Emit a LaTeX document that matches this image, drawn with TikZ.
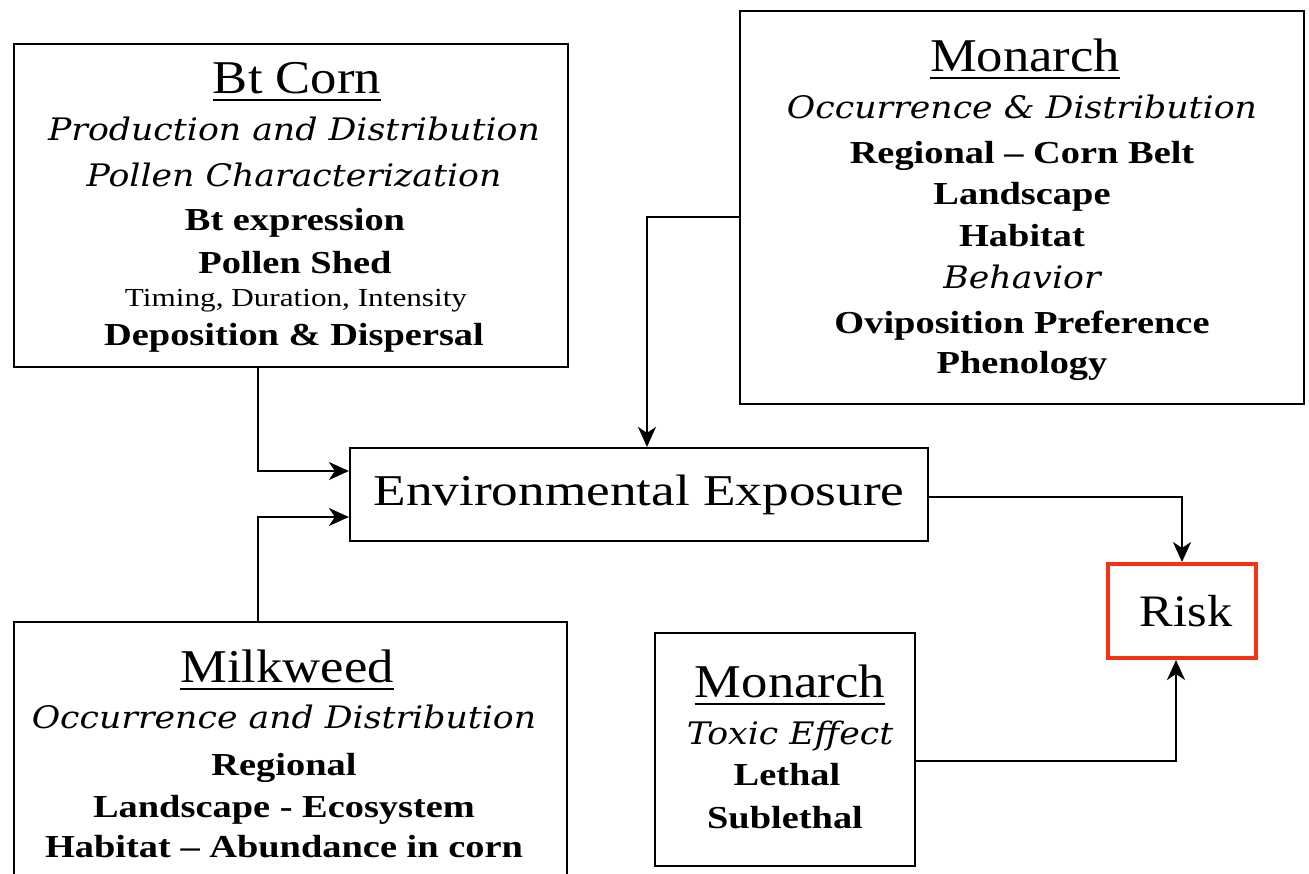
\documentclass[tikz,border=0pt]{standalone}
\usepackage{fontspec}
\setmainfont{Liberation Serif}
\newfontfamily\titlef{Liberation Serif}[FakeStretch=1.12]
\newfontfamily\envf{Liberation Serif}[FakeStretch=1.21]
\newfontfamily\smlf{Liberation Serif}[FakeStretch=1.2]
\newfontfamily\bldf{Liberation Serif}[FakeStretch=1.2]
\newfontfamily\itf{DejaVu Serif}[FakeStretch=1.12]
\usetikzlibrary{arrows.meta}
\definecolor{riskred}{RGB}{245,50,20}
\tikzset{
  box/.style={draw=black, line width=2.2pt, rectangle, inner sep=0pt},
  ttl/.style={anchor=base, inner sep=0pt, font={\titlef\fontsize{47}{47}\selectfont}},
  itl/.style={anchor=base, inner sep=0pt, font={\itf\fontsize{31}{31}\selectfont\itshape}},
  bld/.style={anchor=base, inner sep=0pt, font={\bldf\fontsize{32}{32}\selectfont\bfseries}},
  sml/.style={anchor=base, inner sep=0pt, font={\smlf\fontsize{26}{26}\selectfont}},
  uline/.style={line width=2.5pt},
  arr/.style={line width=2.4pt, -{Stealth[length=20pt,width=18pt,inset=6pt]}}
}
\begin{document}
\begin{tikzpicture}[x=1pt,y=-1pt]
\useasboundingbox (0,0) rectangle (1309,873);
\clip (0,0) rectangle (1309,873);
\fill[white] (0,0) rectangle (1309,873);
% boxes
\node[box, minimum width=554pt, minimum height=323pt] (bt) at (291,205.5) {};
\node[box, minimum width=564pt, minimum height=393pt] (mon) at (1022,207.5) {};
\node[box, minimum width=578pt, minimum height=93pt,
      font={\envf\fontsize{44}{44}\selectfont}] (env) at (639,494.5) {Environmental Exposure};
\node[draw=riskred, line width=4pt, rectangle, inner sep=0pt,
      minimum width=148pt, minimum height=94pt,
      font={\titlef\fontsize{45}{45}\selectfont}] (risk) at (1182,611) {\hspace{8pt}Risk};
\node[box, minimum width=553pt, minimum height=290pt] (milk) at (290.5,767) {};
\node[box, minimum width=260pt, minimum height=233pt] (tox) at (785,749.5) {};
% Bt Corn text
\node[ttl] (btA) at (297,93) {Bt Corn};
\draw[uline] ([yshift=-7pt]btA.base west) -- ([yshift=-7pt]btA.base east);
\node[itl] (btB) at (294,140) {Production and Distribution};
\node[itl] (btC) at (294,186) {Pollen Characterization};
\node[bld] (btD) at (295,230) {Bt expression};
\node[bld] (btE) at (295,273) {Pollen Shed};
\node[sml] (btF) at (296,306) {Timing, Duration, Intensity};
\node[bld] (btG) at (294,345) {Deposition \& Dispersal};
% Monarch top text
\node[ttl] (monA) at (1025,71) {Monarch};
\draw[uline] ([yshift=-7pt]monA.base west) -- ([yshift=-7pt]monA.base east);
\node[itl] (monB) at (1022,118) {Occurrence \& Distribution};
\node[bld] (monC) at (1022,163) {Regional – Corn Belt};
\node[bld] (monD) at (1022,204) {Landscape};
\node[bld] (monE) at (1022,246) {Habitat};
\node[itl] (monF) at (1022,288) {Behavior};
\node[bld] (monG) at (1022,333) {Oviposition Preference};
\node[bld] (monH) at (1022,373) {Phenology};
% Milkweed text
\node[ttl] (mkA) at (287,682) {Milkweed};
\draw[uline] ([yshift=-7pt]mkA.base west) -- ([yshift=-7pt]mkA.base east);
\node[itl] (mkB) at (284,728) {Occurrence and Distribution};
\node[bld] (mkC) at (284,775) {Regional};
\node[bld] (mkD) at (284,817) {Landscape - Ecosystem};
\node[bld] (mkE) at (284,857) {Habitat – Abundance in corn};
% Monarch toxic text
\node[ttl] (txA) at (790,697) {Monarch};
\draw[uline] ([yshift=-7pt]txA.base west) -- ([yshift=-7pt]txA.base east);
\node[itl] (txB) at (790,744) {Toxic Effect};
\node[bld] (txC) at (787,785) {Lethal};
\node[bld] (txD) at (785,828) {Sublethal};
% connectors
\draw[arr] ([xshift=-33pt]bt.south) |- ([yshift=23.5pt]env.west);
\draw[arr] ([xshift=-32.5pt]milk.north) |- ([yshift=-22.5pt]env.west);
\draw[arr] ([yshift=-9.5pt]mon.west) -| ([xshift=8pt]env.north);
\draw[arr] ([yshift=-2.5pt]env.east) -| (risk.north);
\draw[arr] ([yshift=-11.5pt]tox.east) -| ([xshift=-6pt]risk.south);
\end{tikzpicture}
\end{document}
